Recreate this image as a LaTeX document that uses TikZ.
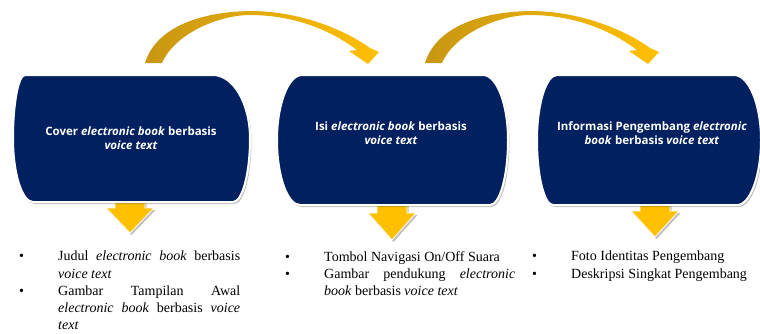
\documentclass[tikz,border=0pt]{standalone}
\usepackage{fontspec}
\setmainfont{Liberation Serif}
\newfontfamily\boxfont{Open Sans}
\usepackage{tikz}
\usetikzlibrary{positioning}

\definecolor{navy}{RGB}{0,32,96}
\definecolor{gold}{RGB}{255,192,0}
\definecolor{darkgold}{RGB}{200,150,20}

% outline of a navy box: left, right, top, bottom, then the four corner insets
\newcommand{\navyshape}[8]{({#1+#5},#3) -- ({#2-#6},#3)
  .. controls ({#2-0.45*#6},#3) and (#2,{#3+0.45*((#4-#3)/2)}) .. (#2,{(#3+#4)/2})
  .. controls (#2,{#4-0.45*((#4-#3)/2)}) and ({#2-0.45*#7},#4) .. ({#2-#7},#4)
  -- ({#1+#8},#4)
  .. controls ({#1+0.45*#8},#4) and (#1,{#4-0.45*((#4-#3)/2)}) .. (#1,{(#3+#4)/2})
  .. controls (#1,{#3+0.45*((#4-#3)/2)}) and ({#1+0.45*#5},#3) .. ({#1+#5},#3) -- cycle}
% block arrow pointing down: centre, top, start of head, tip
\newcommand{\goldarrow}[4]{({#1-15},#2) -- ({#1+15},#2) -- ({#1+15},#3) -- ({#1+24},#3)
  -- (#1,#4) -- ({#1-24},#3) -- ({#1-15},#3) -- cycle}
% curved arrow over the gap between two boxes
\newcommand{\bendarrow}{(145,63) .. controls (155,30) and (195,12) .. (250,11)
  .. controls (300,11) and (345,30) .. (370,48)
  -- (379,52) -- (368,64) -- (349,51) -- (357,50)
  .. controls (332,31) and (295,15) .. (250,15)
  .. controls (220,15) and (175,33) .. (162,63) -- cycle}
\newcommand{\entry}{\hangindent=39pt\hangafter=1\noindent\makebox[39pt][l]{\textbullet}}

\begin{document}
\begin{tikzpicture}[x=1pt,y=-1pt,
  boxshadow/.style={fill=black,opacity=0.25,xshift=1.5pt,yshift=-2pt},
  navybox/.style={fill=navy,draw=white,line width=2pt},
  goldfill/.style={fill=gold,draw=white,line width=0.8pt},
  bendfill/.style={left color=darkgold,right color=gold,draw=none},
  boxtext/.style={text=white,align=center,inner sep=0pt,
    font=\boxfont\bfseries\fontsize{11.5}{14}\selectfont},
  points/.style={anchor=north west,inner sep=0pt,align=justify,
    font=\fontsize{14}{17.2}\selectfont}]

    \useasboundingbox (0,0) rectangle (760,333);

    % Arrows between the boxes
    \shade[bendfill] \bendarrow;
    \begin{scope}[xshift=280pt]
      \shade[bendfill] \bendarrow;
    \end{scope}

    % Arrows under the boxes
    \fill[boxshadow] \goldarrow{130}{200}{208}{233};
    \fill[boxshadow] \goldarrow{392}{203}{213}{240};
    \fill[boxshadow] \goldarrow{655}{203}{211}{237};
    \path[goldfill] \goldarrow{130}{200}{208}{233};
    \path[goldfill] \goldarrow{392}{203}{213}{240};
    \path[goldfill] \goldarrow{655}{203}{211}{237};

    % The boxes
    \fill[boxshadow] \navyshape{13}{250}{75}{202}{12}{37}{17}{20};
    \fill[boxshadow] \navyshape{277}{508}{75}{205}{25}{25}{18}{23};
    \fill[boxshadow] \navyshape{537}{761}{75}{205}{20}{27}{24}{16};
    \path[navybox] \navyshape{13}{250}{75}{202}{12}{37}{17}{20};
    \path[navybox] \navyshape{277}{508}{75}{205}{25}{25}{18}{23};
    \path[navybox] \navyshape{537}{761}{75}{205}{20}{27}{24}{16};

    \node[boxtext] (cover) at (131,138) {Cover \textit{electronic book} berbasis\\\textit{voice text}};
    \node[boxtext] (isi) at (391,133) {Isi \textit{electronic book} berbasis\\\textit{voice text}};
    \node[boxtext] (info) at (652,133) {Informasi Pengembang \textit{electronic}\\\textit{book} berbasis \textit{voice text}};

    % Lists
    \node[points,text width=221pt] (coverlist) at (19,251)
      {\hyphenpenalty=10000\relax
       \entry Judul \textit{electronic book} berbasis \textit{voice text}\par
       \entry Gambar Tampilan Awal \textit{electronic book} berbasis \textit{voice text}\par};
    \node[points,text width=230pt] (isilist) at (285,251)
      {\hyphenpenalty=10000\relax
       \entry Tombol Navigasi On/Off Suara\par
       \entry Gambar pendukung \textit{electronic book} berbasis \textit{voice text}\par};
    \node[points,text width=222pt] (infolist) at (532,251)
      {\entry Foto Identitas Pengembang\par
       \entry Deskripsi Singkat Pengembang\par};
\end{tikzpicture}
\end{document}
